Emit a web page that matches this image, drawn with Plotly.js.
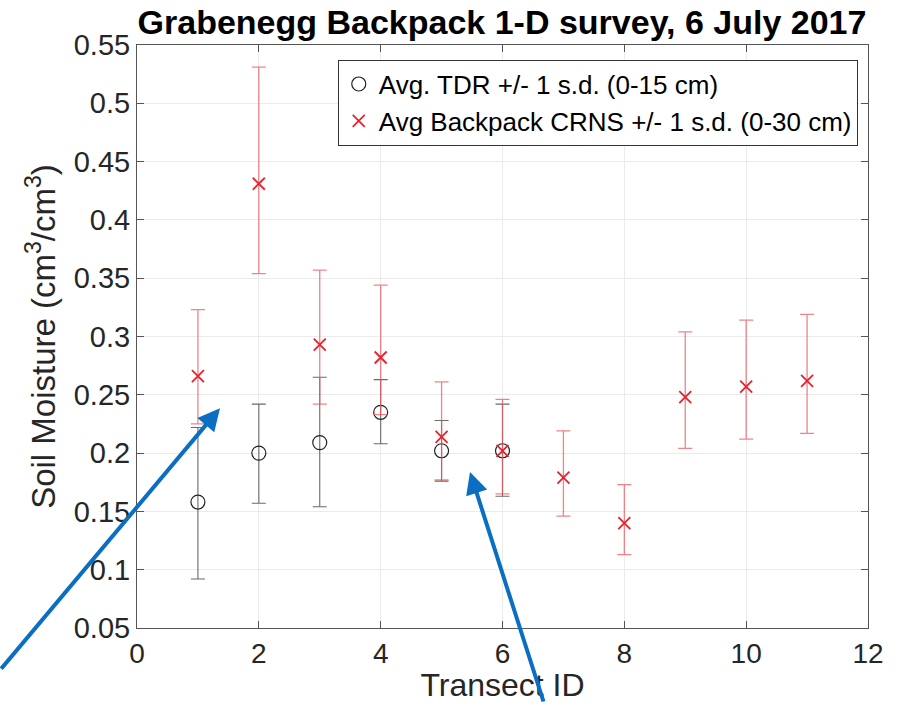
<!DOCTYPE html>
<html>
<head>
<meta charset="utf-8">
<script src="https://cdn.plot.ly/plotly-3.0.1.min.js"></script>
<style>
  html, body { margin: 0; padding: 0; background: #fff; }
  #chart { width: 898px; height: 703px; }
</style>
</head>
<body>
<div id="chart"></div>
<script>
// Transect numbers
const tdrTransect = [1, 2, 3, 4, 5, 6];
const crnsTransect = [1, 2, 3, 4, 5, 6, 7, 8, 9, 10, 11];

// Avg. TDR soil moisture (0-15 cm) with upper / lower s.d. offsets
const tdrMean  = [0.158, 0.200, 0.209, 0.235, 0.202, 0.202];
const tdrPlus  = [0.064, 0.042, 0.056, 0.028, 0.026, 0.040];
const tdrMinus = [0.066, 0.043, 0.055, 0.027, 0.026, 0.039];

// Avg backpack CRNS soil moisture (0-30 cm) with upper / lower s.d. offsets
const crnsMean  = [0.266, 0.431, 0.293, 0.282, 0.214, 0.202, 0.179, 0.140, 0.248, 0.257, 0.262];
const crnsPlus  = [0.057, 0.100, 0.064, 0.062, 0.047, 0.044, 0.040, 0.033, 0.056, 0.057, 0.057];
const crnsMinus = [0.041, 0.077, 0.051, 0.049, 0.037, 0.037, 0.033, 0.027, 0.044, 0.045, 0.045];

const xTicks = [0, 2, 4, 6, 8, 10, 12];
const yTicks = [0.05, 0.1, 0.15, 0.2, 0.25, 0.3, 0.35, 0.4, 0.45, 0.5, 0.55];

const font = "Liberation Sans, Arial, Helvetica, sans-serif";

const traces = [
  {
    type: "scatter", mode: "markers",
    name: "Avg. TDR +/- 1 s.d. (0-15 cm)",
    x: tdrTransect, y: tdrMean,
    marker: { symbol: "circle-open", size: 14, color: "#222", line: { width: 1.2, color: "#222" } },
    error_y: { type: "data", symmetric: false, array: tdrPlus, arrayminus: tdrMinus,
               color: "#6a6a6a", thickness: 1.1, width: 7 }
  },
  {
    type: "scatter", mode: "markers",
    name: "Avg Backpack CRNS +/- 1 s.d. (0-30 cm)",
    x: crnsTransect, y: crnsMean,
    marker: { symbol: "x-thin-open", size: 12, color: "#e8222c", line: { width: 1.8, color: "#e8222c" } },
    error_y: { type: "data", symmetric: false, array: crnsPlus, arrayminus: crnsMinus,
               color: "rgba(236,90,96,0.75)", thickness: 1.3, width: 7 }
  }
];

const axisCommon = {
  showgrid: true, gridcolor: "#ebebeb", gridwidth: 1,
  zeroline: false, showline: true, linecolor: "#555", linewidth: 1,
  mirror: "ticks", ticks: "inside", ticklen: 7, tickcolor: "#555", tickwidth: 1,
  tickfont: { family: font, size: 29, color: "#262626" }
};

const layout = {
  width: 898, height: 703,
  margin: { l: 137, r: 30, t: 45, b: 75 },
  paper_bgcolor: "#fff", plot_bgcolor: "#fff",
  title: {
    text: "<b>Grabenegg Backpack 1-D survey, 6 July 2017</b>",
    font: { family: font, size: 34, color: "#000" },
    x: 0.559, xanchor: "center", y: 0.969, yanchor: "middle"
  },
  xaxis: Object.assign({}, axisCommon, {
    range: [0, 12], tickvals: xTicks, ticktext: xTicks.map(String),
    tickfont: { family: font, size: 28, color: "#262626" },
    title: { text: "Transect ID", font: { family: font, size: 32, color: "#262626" }, standoff: 6 }
  }),
  yaxis: Object.assign({}, axisCommon, {
    range: [0.05, 0.55], tickvals: yTicks, ticktext: yTicks.map(String),
    title: { text: "Soil Moisture (cm<sup>3</sup>/cm<sup>3</sup>)", font: { family: font, size: 33, color: "#262626" }, standoff: 8 }
  }),
  showlegend: true,
  legend: {
    x: 0.986, xanchor: "right", y: 0.975, yanchor: "top",
    bgcolor: "#fff", bordercolor: "#333", borderwidth: 1,
    font: { family: font, size: 26, color: "#000" },
    tracegroupgap: 0, itemwidth: 30
  },
  annotations: [
    {
      xref: "paper", yref: "paper", x: 0.1135, y: 0.377,
      axref: "pixel", ayref: "pixel", ax: -228, ay: 262,
      showarrow: true, arrowhead: 2, arrowsize: 1.1, arrowwidth: 4, arrowcolor: "#0A6EC2", text: ""
    },
    {
      xref: "paper", yref: "paper", x: 0.4555, y: 0.2676,
      axref: "pixel", ayref: "pixel", ax: 74, ay: 245,
      showarrow: true, arrowhead: 2, arrowsize: 1.1, arrowwidth: 4, arrowcolor: "#0A6EC2", text: ""
    }
  ]
};

Plotly.newPlot("chart", traces, layout, { displayModeBar: false, staticPlot: true });
</script>
</body>
</html>
